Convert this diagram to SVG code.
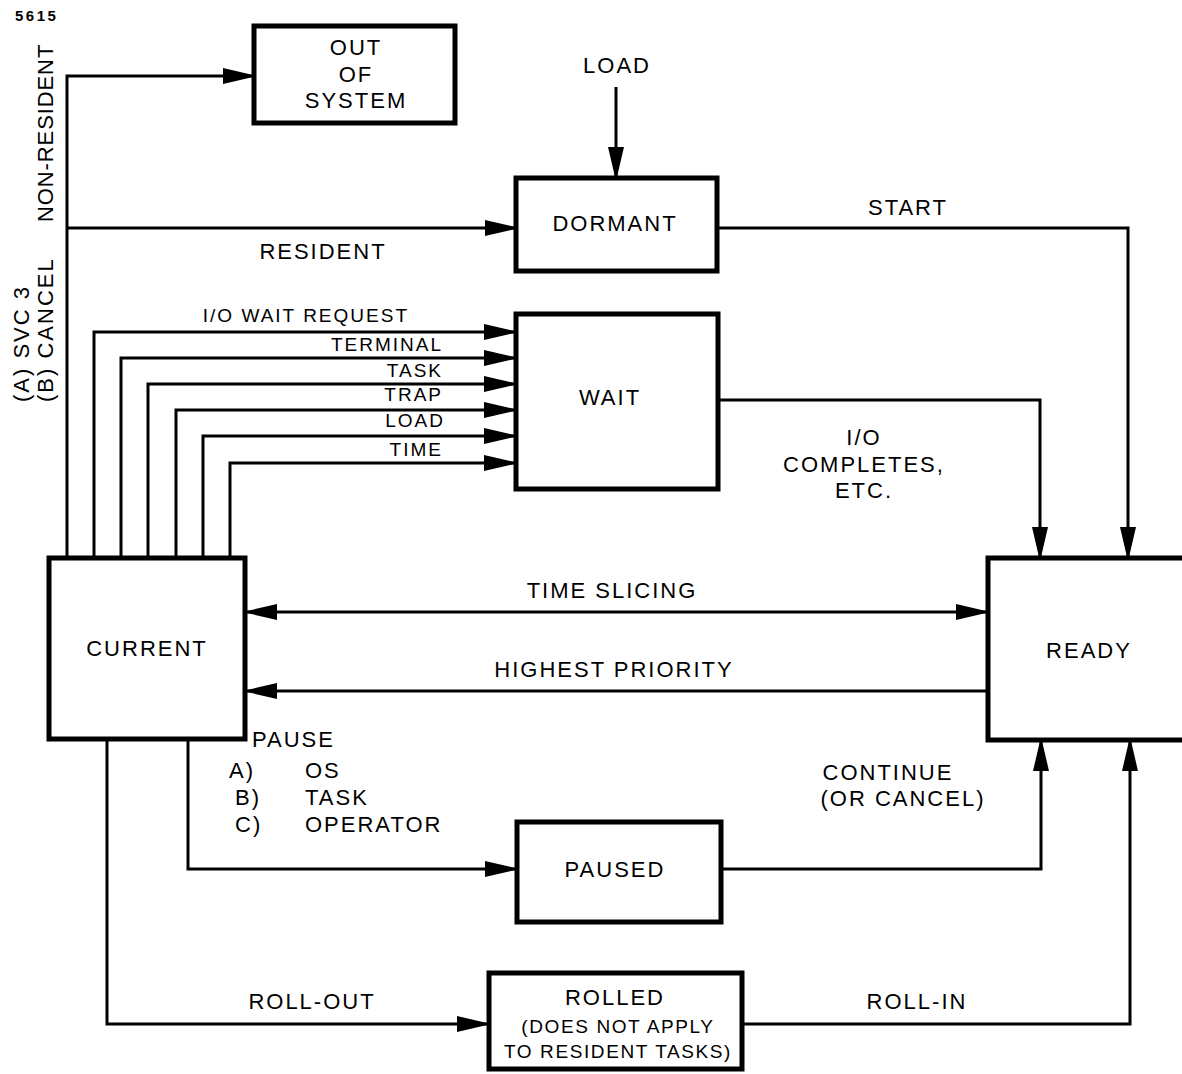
<svg xmlns="http://www.w3.org/2000/svg" width="1182" height="1074" viewBox="0 0 1182 1074">
<style>
.box{fill:#fff;stroke:#000;stroke-width:5}
.ln{fill:none;stroke:#000;stroke-width:3}
.t{font-family:"Liberation Sans",Arial,sans-serif;font-size:22px;letter-spacing:2px;fill:#000;text-anchor:middle}
.s{font-family:"Liberation Sans",Arial,sans-serif;font-size:19px;letter-spacing:2px;fill:#000;text-anchor:end}
.r{font-size:19px;letter-spacing:1.6px}
.l{text-anchor:start}
</style>
<defs>
<marker id="ah" markerUnits="userSpaceOnUse" markerWidth="32" markerHeight="16" refX="30" refY="8" orient="auto-start-reverse">
<path d="M0,0 L30,7 L30,9 L0,16 z" fill="#000"/>
</marker>
</defs>
<text x="15" y="21" style="font-family:'Liberation Sans',Arial,sans-serif;font-size:15px;font-weight:bold;letter-spacing:2.5px">5615</text>
<text class="t l" style="letter-spacing:0.9px" transform="translate(53,222) rotate(-90)">NON-RESIDENT</text>
<text class="t l" transform="translate(29,402) rotate(-90)">(A)  SVC 3</text>
<text class="t l" transform="translate(53,402) rotate(-90)">(B)  CANCEL</text>
<g id="connectors">
<path class="ln" d="M67,558 V76 H253" marker-end="url(#ah)"/>
<path class="ln" d="M67,228 H515" marker-end="url(#ah)"/>
<path class="ln" d="M616,87 V177" marker-end="url(#ah)"/>
<path class="ln" d="M718,228 H1128 V557" marker-end="url(#ah)"/>
<path class="ln" d="M718,400 H1040 V557" marker-end="url(#ah)"/>
<path class="ln" d="M94,558 V332 H514" marker-end="url(#ah)"/>
<path class="ln" d="M121,558 V358 H514" marker-end="url(#ah)"/>
<path class="ln" d="M148,558 V384 H514" marker-end="url(#ah)"/>
<path class="ln" d="M176,558 V410 H514" marker-end="url(#ah)"/>
<path class="ln" d="M203,558 V436 H514" marker-end="url(#ah)"/>
<path class="ln" d="M230,558 V463 H514" marker-end="url(#ah)"/>
<path class="ln" d="M247,612 H986" marker-start="url(#ah)" marker-end="url(#ah)"/>
<path class="ln" d="M986,691 H247" marker-end="url(#ah)"/>
<path class="ln" d="M188,739 V869 H515" marker-end="url(#ah)"/>
<path class="ln" d="M722,869 H1041 V741" marker-end="url(#ah)"/>
<path class="ln" d="M107,739 V1024 H487" marker-end="url(#ah)"/>
<path class="ln" d="M743,1024 H1130 V741" marker-end="url(#ah)"/>
</g>
<g id="labels">
<text class="t" x="617" y="73">LOAD</text>
<text class="t" x="323" y="259">RESIDENT</text>
<text class="t" x="908" y="215">START</text>
<text class="t" x="864" y="445">I/O</text>
<text class="t" x="864" y="472">COMPLETES,</text>
<text class="t" x="864" y="498">ETC.</text>
<text class="s" x="409" y="322">I/O WAIT REQUEST</text>
<text class="s" x="443" y="351">TERMINAL</text>
<text class="s" x="443" y="377">TASK</text>
<text class="s" x="443" y="401">TRAP</text>
<text class="s" x="445" y="427">LOAD</text>
<text class="s" x="443" y="456">TIME</text>
<text class="t" x="612" y="598">TIME SLICING</text>
<text class="t" x="614" y="677">HIGHEST PRIORITY</text>
<text class="t l" x="252" y="747">PAUSE</text>
<text class="t l" x="229" y="778">A)</text>
<text class="t l" x="235" y="805">B)</text>
<text class="t l" x="235" y="832">C)</text>
<text class="t l" x="305" y="778">OS</text>
<text class="t l" x="305" y="805">TASK</text>
<text class="t l" x="305" y="832">OPERATOR</text>
<text class="t" x="888" y="780">CONTINUE</text>
<text class="t" x="903" y="806">(OR CANCEL)</text>
<text class="t" x="312" y="1009">ROLL-OUT</text>
<text class="t" x="917" y="1009">ROLL-IN</text>
</g>
<g id="out-of-system">
<rect class="box" x="254" y="26" width="201" height="97"/>
<text class="t" x="356" y="55">OUT</text>
<text class="t" x="356" y="82">OF</text>
<text class="t" x="356" y="108">SYSTEM</text>
</g>
<g id="dormant">
<rect class="box" x="516" y="178" width="201" height="93"/>
<text class="t" x="615" y="231">DORMANT</text>
</g>
<g id="wait">
<rect class="box" x="516" y="314" width="202" height="175"/>
<text class="t" x="610" y="405">WAIT</text>
</g>
<g id="current">
<rect class="box" x="49" y="558" width="196" height="181"/>
<text class="t" x="147" y="656">CURRENT</text>
</g>
<g id="ready">
<rect class="box" x="988" y="558" width="210" height="182"/>
<text class="t" x="1089" y="658">READY</text>
</g>
<g id="paused">
<rect class="box" x="517" y="822" width="204" height="100"/>
<text class="t" x="615" y="877">PAUSED</text>
</g>
<g id="rolled">
<rect class="box" x="489" y="973" width="253" height="96"/>
<text class="t" x="615" y="1005">ROLLED</text>
<text class="t r" x="618" y="1033">(DOES NOT APPLY</text>
<text class="t r" x="618" y="1058">TO RESIDENT TASKS)</text>
</g>
</svg>
